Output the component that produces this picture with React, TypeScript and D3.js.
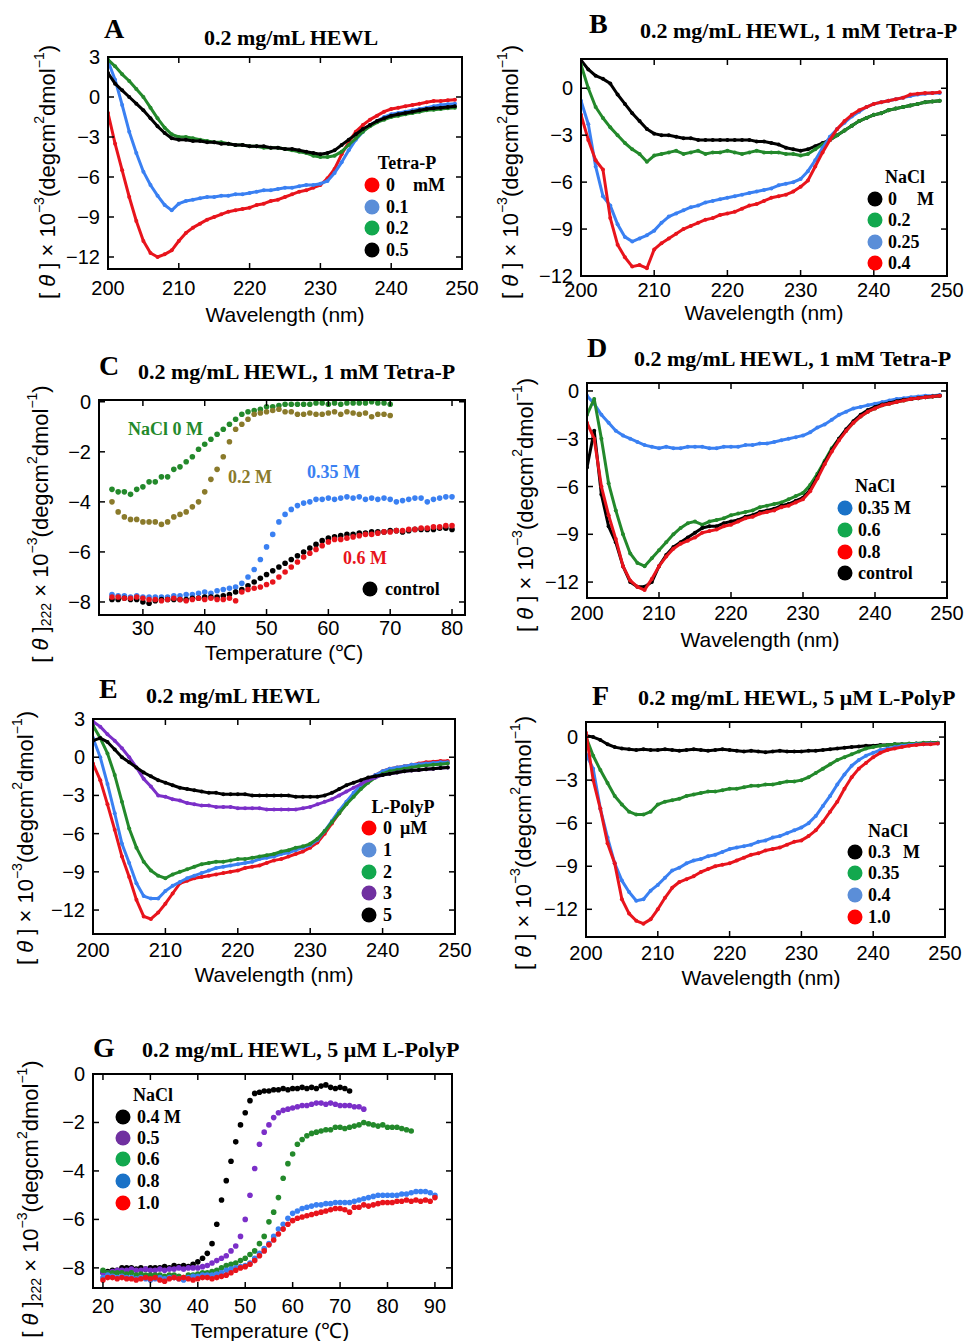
import React from 'react';
import * as d3 from 'd3';

// wavelength grid (nm) shared by the spectra
const WL = [200, 201, 202, 203, 204, 205, 206, 207, 208, 209, 210, 211, 212, 213, 214, 215, 216, 217, 218, 219,
  220, 221, 222, 223, 224, 225, 226, 227, 228, 229, 230, 231, 232, 233, 234, 235, 236, 237, 238, 239,
  240, 241, 242, 243, 244, 245, 246, 247, 248, 249];

// A: Tetra-P 0 / 0.1 / 0.2 / 0.5 mM
const A_RED = [-1.2, -3.5, -5.5, -7.5, -9.3, -10.8, -11.7, -12.0, -11.8, -11.5, -10.8, -10.2, -9.8, -9.5, -9.2, -9.0, -8.8, -8.6, -8.5, -8.4,
  -8.3, -8.1, -8.0, -7.8, -7.7, -7.5, -7.3, -7.1, -7.0, -6.8, -6.6, -6.1, -5.4, -4.3, -3.4, -2.6, -2.1, -1.7, -1.4, -1.1,
  -0.9, -0.8, -0.7, -0.6, -0.5, -0.4, -0.3, -0.3, -0.25, -0.2];
const A_BLUE = [2.7, 1.3, -0.6, -2.6, -4.2, -5.6, -6.6, -7.4, -8.1, -8.5, -8.0, -7.8, -7.7, -7.6, -7.5, -7.5, -7.4, -7.4, -7.3, -7.3,
  -7.2, -7.1, -7.0, -7.0, -6.9, -6.8, -6.8, -6.7, -6.6, -6.6, -6.5, -6.3, -5.7, -4.9, -4.0, -3.2, -2.6, -2.1, -1.8, -1.5,
  -1.3, -1.2, -1.1, -1.0, -0.9, -0.8, -0.7, -0.6, -0.55, -0.5];
const A_GREEN = [2.8, 2.3, 1.7, 1.2, 0.6, 0.0, -0.8, -1.6, -2.3, -2.8, -3.0, -3.0, -3.1, -3.2, -3.3, -3.4, -3.4, -3.5, -3.6, -3.6,
  -3.7, -3.7, -3.8, -3.8, -3.8, -3.9, -4.0, -4.1, -4.2, -4.4, -4.5, -4.5, -4.4, -4.1, -3.6, -3.1, -2.6, -2.2, -1.9, -1.7,
  -1.5, -1.4, -1.3, -1.2, -1.1, -1.0, -0.95, -0.9, -0.85, -0.8];
const A_BLACK = [1.8, 1.0, 0.5, 0.0, -0.5, -1.0, -1.6, -2.2, -2.7, -3.1, -3.2, -3.2, -3.3, -3.3, -3.4, -3.4, -3.5, -3.5, -3.6, -3.6,
  -3.7, -3.7, -3.7, -3.8, -3.8, -3.9, -3.9, -4.0, -4.1, -4.2, -4.3, -4.2, -4.0, -3.6, -3.2, -2.8, -2.4, -2.1, -1.8, -1.6,
  -1.4, -1.3, -1.2, -1.1, -1.0, -0.9, -0.85, -0.8, -0.75, -0.7];

// B: NaCl 0 / 0.2 / 0.25 / 0.4 M
const B_BLACK = [1.8, 1.2, 0.8, 0.6, 0.3, -0.4, -1.0, -1.6, -2.1, -2.6, -2.9, -3.0, -3.0, -3.1, -3.2, -3.2, -3.3, -3.3, -3.3, -3.3,
  -3.3, -3.3, -3.3, -3.3, -3.4, -3.4, -3.5, -3.6, -3.8, -3.9, -4.0, -3.9, -3.7, -3.5, -3.3, -3.0, -2.7, -2.4, -2.1, -1.9,
  -1.7, -1.6, -1.4, -1.3, -1.2, -1.1, -1.0, -0.9, -0.85, -0.8];
const B_GREEN = [1.5, 0.0, -1.2, -1.9, -2.5, -3.0, -3.5, -3.9, -4.2, -4.7, -4.3, -4.2, -4.1, -4.0, -4.2, -4.1, -4.0, -4.2, -4.1, -4.1,
  -4.0, -4.1, -4.2, -4.1, -4.0, -4.1, -4.1, -4.1, -4.2, -4.2, -4.3, -4.2, -3.9, -3.6, -3.3, -3.0, -2.7, -2.4, -2.1, -1.9,
  -1.7, -1.6, -1.4, -1.3, -1.2, -1.1, -1.0, -0.9, -0.85, -0.8];
const B_BLUE = [-0.8, -2.3, -5.0, -6.9, -7.5, -8.7, -9.5, -9.8, -9.6, -9.4, -9.1, -8.6, -8.2, -8.0, -7.8, -7.6, -7.5, -7.3, -7.2, -7.1,
  -7.0, -6.9, -6.8, -6.7, -6.6, -6.5, -6.4, -6.2, -6.1, -6.0, -5.8, -5.3, -4.6, -3.8, -3.1, -2.6, -2.2, -1.8, -1.5, -1.2,
  -1.0, -0.9, -0.8, -0.7, -0.6, -0.5, -0.4, -0.35, -0.3, -0.3];
const B_RED = [-1.7, -3.3, -4.6, -5.2, -8.3, -10.0, -10.8, -11.4, -11.3, -11.5, -10.3, -9.9, -9.6, -9.3, -9.0, -8.8, -8.6, -8.4, -8.3, -8.1,
  -8.0, -7.9, -7.7, -7.5, -7.4, -7.2, -7.0, -6.9, -6.8, -6.6, -6.3, -5.9, -5.0, -4.1, -3.3, -2.6, -2.1, -1.7, -1.4, -1.2,
  -1.0, -0.9, -0.8, -0.7, -0.6, -0.4, -0.35, -0.3, -0.3, -0.25];

// C: thermal melts at 222 nm, 1 mM Tetra-P
const T_C70 = [25, 26, 27, 28, 29, 30, 31, 32, 33, 34, 35, 36, 37, 38, 39, 40, 41, 42, 43, 44, 45, 46, 47,
  48, 49, 50, 51, 52, 53, 54, 55, 56, 57, 58, 59, 60, 61, 62, 63, 64, 65, 66, 67, 68, 69, 70];
const T_C80 = [25, 26, 27, 28, 29, 30, 31, 32, 33, 34, 35, 36, 37, 38, 39, 40, 41, 42, 43, 44, 45, 46, 47,
  48, 49, 50, 51, 52, 53, 54, 55, 56, 57, 58, 59, 60, 61, 62, 63, 64, 65, 66, 67, 68, 69, 70,
  71, 72, 73, 74, 75, 76, 77, 78, 79, 80];
const C_GREEN = [-3.5, -3.6, -3.6, -3.7, -3.5, -3.4, -3.2, -3.2, -3.0, -3.0, -2.7, -2.6, -2.4, -2.2, -1.9, -1.7, -1.5, -1.3, -1.1, -0.9,
  -0.7, -0.5, -0.4, -0.35, -0.3, -0.2, -0.2, -0.15, -0.1, -0.1, -0.1, -0.1, -0.1, -0.05, -0.05, -0.1, -0.05, -0.1, -0.05, -0.05,
  -0.05, -0.05, 0.0, -0.05, -0.05, -0.1];
const C_OLIVE = [-4.0, -4.4, -4.6, -4.7, -4.7, -4.8, -4.8, -4.8, -4.9, -4.8, -4.6, -4.5, -4.4, -4.2, -4.0, -3.6, -3.1, -2.7, -2.2, -1.6,
  -1.1, -0.9, -0.7, -0.5, -0.45, -0.4, -0.35, -0.3, -0.4, -0.4, -0.5, -0.5, -0.45, -0.5, -0.5, -0.45, -0.4, -0.5, -0.4, -0.45,
  -0.5, -0.45, -0.6, -0.5, -0.5, -0.55];
const C_BLUE = [-7.7, -7.75, -7.75, -7.8, -7.75, -7.8, -7.8, -7.8, -7.8, -7.8, -7.75, -7.75, -7.7, -7.7, -7.65, -7.6, -7.65, -7.55, -7.5, -7.45,
  -7.4, -7.25, -7.0, -6.7, -6.3, -5.8, -5.3, -4.8, -4.5, -4.3, -4.15, -4.05, -4.0, -3.9, -3.9, -3.85, -3.9, -3.85, -3.8, -3.85,
  -3.8, -3.9, -3.85, -3.9, -3.85, -3.9, -4.0, -3.95, -3.9, -3.85, -3.85, -4.0, -3.9, -3.85, -3.8, -3.8];
const C_RED = [-7.8, -7.8, -7.85, -7.85, -7.8, -7.85, -7.9, -7.9, -7.95, -7.9, -7.85, -7.9, -7.95, -7.9, -7.85, -7.9, -7.85, -7.9, -7.9, -7.85,
  -7.95, -7.6, -7.5, -7.45, -7.4, -7.3, -7.2, -7.0, -6.8, -6.6, -6.4, -6.2, -6.05, -5.9, -5.75, -5.6, -5.5, -5.5, -5.45, -5.4,
  -5.35, -5.3, -5.3, -5.25, -5.2, -5.2, -5.15, -5.15, -5.1, -5.1, -5.05, -5.05, -5.0, -5.0, -4.95, -4.95];
const C_BLACK = [-7.9, -7.9, -7.85, -7.9, -7.9, -8.0, -8.05, -7.95, -7.9, -7.9, -7.9, -7.9, -7.9, -7.85, -7.85, -7.8, -7.8, -7.8, -7.75, -7.7,
  -7.6, -7.5, -7.35, -7.2, -7.05, -6.9, -6.75, -6.6, -6.45, -6.3, -6.15, -6.0, -5.85, -5.7, -5.55, -5.45, -5.4, -5.35, -5.3, -5.3,
  -5.25, -5.25, -5.2, -5.2, -5.2, -5.15, -5.15, -5.2, -5.15, -5.1, -5.1, -5.1, -5.1, -5.05, -5.05, -5.1];

// D: NaCl 0.35 / 0.6 / 0.8 M / control
const D_BLUE = [-0.3, -0.8, -1.5, -2.0, -2.5, -2.8, -3.0, -3.2, -3.4, -3.5, -3.6, -3.5, -3.6, -3.6, -3.5, -3.5, -3.5, -3.6, -3.6, -3.5,
  -3.5, -3.5, -3.4, -3.4, -3.3, -3.3, -3.2, -3.1, -3.0, -2.9, -2.8, -2.6, -2.3, -2.1, -1.8, -1.5, -1.3, -1.1, -1.0, -0.9,
  -0.8, -0.7, -0.6, -0.5, -0.45, -0.4, -0.35, -0.3, -0.3, -0.25];
const D_GREEN = [-1.5, -0.5, -3.0, -5.8, -7.5, -9.0, -10.2, -10.8, -11.0, -10.5, -10.0, -9.5, -9.0, -8.6, -8.3, -8.2, -8.4, -8.2, -8.1, -8.0,
  -7.8, -7.7, -7.6, -7.5, -7.3, -7.2, -7.1, -7.0, -6.8, -6.6, -6.4, -5.9, -5.2, -4.4, -3.6, -3.0, -2.5, -2.0, -1.6, -1.3,
  -1.1, -0.9, -0.8, -0.7, -0.6, -0.5, -0.45, -0.4, -0.35, -0.3];
const D_RED = [-2.0, -3.0, -6.0, -7.8, -9.3, -11.0, -11.9, -12.3, -12.5, -11.8, -11.0, -10.4, -9.9, -9.6, -9.4, -9.2, -8.9, -8.8, -8.7, -8.5,
  -8.4, -8.2, -8.0, -7.9, -7.7, -7.6, -7.5, -7.3, -7.2, -7.0, -6.8, -6.3, -5.5, -4.6, -3.8, -3.1, -2.5, -2.0, -1.6, -1.3,
  -1.1, -0.9, -0.8, -0.7, -0.6, -0.5, -0.45, -0.4, -0.35, -0.3];
const D_BLACK = [-4.8, -2.5, -6.5, -8.5, -9.5, -11.0, -12.0, -12.3, -12.3, -12.0, -11.0, -10.3, -9.8, -9.5, -9.2, -8.9, -8.6, -8.5, -8.5, -8.3,
  -8.2, -8.1, -7.9, -7.8, -7.6, -7.5, -7.4, -7.2, -7.1, -6.9, -6.7, -6.2, -5.4, -4.5, -3.7, -3.0, -2.4, -1.9, -1.5, -1.2,
  -1.0, -0.85, -0.75, -0.65, -0.55, -0.5, -0.45, -0.4, -0.35, -0.3];

// E: L-PolyP 0 / 1 / 2 / 3 / 5 uM
const E_RED = [-0.5, -1.8, -3.7, -5.7, -7.8, -9.4, -11.2, -12.5, -12.7, -12.2, -11.5, -10.7, -9.9, -9.7, -9.5, -9.4, -9.3, -9.2, -9.1, -9.0,
  -8.9, -8.7, -8.6, -8.5, -8.3, -8.1, -8.0, -7.8, -7.6, -7.4, -7.1, -6.7, -6.0, -5.2, -4.4, -3.6, -2.9, -2.3, -1.8, -1.4,
  -1.1, -0.9, -0.8, -0.7, -0.6, -0.5, -0.4, -0.35, -0.3, -0.3];
const E_BLUE = [1.5, 0.0, -2.1, -4.4, -6.8, -8.3, -9.9, -10.9, -11.1, -11.1, -10.5, -10.1, -9.8, -9.5, -9.3, -9.1, -8.9, -8.7, -8.6, -8.5,
  -8.4, -8.3, -8.2, -8.0, -7.9, -7.8, -7.6, -7.5, -7.3, -7.1, -6.9, -6.5, -5.8, -5.0, -4.2, -3.5, -2.8, -2.2, -1.7, -1.4,
  -1.1, -0.9, -0.8, -0.7, -0.6, -0.55, -0.5, -0.45, -0.4, -0.4];
const E_GREEN = [2.5, 1.5, 0.3, -1.4, -3.5, -5.6, -7.1, -8.2, -8.9, -9.3, -9.5, -9.2, -9.0, -8.8, -8.6, -8.4, -8.3, -8.2, -8.2, -8.1,
  -8.0, -8.0, -7.9, -7.8, -7.7, -7.6, -7.4, -7.3, -7.1, -7.0, -6.8, -6.4, -5.8, -5.1, -4.4, -3.7, -3.1, -2.5, -2.0, -1.6,
  -1.3, -1.1, -1.0, -0.9, -0.8, -0.7, -0.65, -0.6, -0.55, -0.5];
const E_PURPLE = [2.8, 2.4, 1.8, 1.3, 0.7, 0.0, -0.8, -1.7, -2.3, -3.0, -3.1, -3.3, -3.4, -3.6, -3.7, -3.8, -3.8, -3.9, -3.9, -3.9,
  -4.0, -4.0, -4.0, -4.0, -4.1, -4.1, -4.1, -4.1, -4.1, -4.0, -3.9, -3.7, -3.5, -3.3, -3.0, -2.7, -2.4, -2.1, -1.8, -1.6,
  -1.4, -1.3, -1.2, -1.1, -1.05, -1.0, -0.95, -0.9, -0.85, -0.8];
const E_BLACK = [1.3, 1.5, 1.2, 0.6, 0.0, -0.4, -0.8, -1.2, -1.5, -1.8, -2.0, -2.2, -2.4, -2.5, -2.6, -2.7, -2.8, -2.8, -2.9, -2.9,
  -2.9, -2.9, -3.0, -3.0, -3.0, -3.0, -3.0, -3.0, -3.1, -3.1, -3.1, -3.1, -3.0, -2.8, -2.5, -2.2, -2.0, -1.8, -1.6, -1.5,
  -1.4, -1.3, -1.2, -1.1, -1.05, -1.0, -0.95, -0.9, -0.85, -0.8];

// F: 5 uM L-PolyP, NaCl 0.3 / 0.35 / 0.4 / 1.0 M
const F_BLACK = [0.1, 0.0, -0.2, -0.5, -0.7, -0.8, -0.85, -0.9, -0.85, -0.9, -0.9, -0.85, -0.9, -0.95, -0.9, -0.85, -0.9, -0.95, -0.9, -0.85,
  -0.9, -0.95, -1.0, -0.95, -1.0, -1.05, -1.0, -0.95, -1.0, -1.0, -1.0, -0.95, -0.95, -0.9, -0.85, -0.8, -0.75, -0.7, -0.65, -0.6,
  -0.6, -0.55, -0.55, -0.5, -0.5, -0.5, -0.45, -0.45, -0.4, -0.4];
const F_GREEN = [0.0, -1.3, -2.3, -3.2, -4.1, -4.7, -5.2, -5.4, -5.4, -5.2, -4.7, -4.5, -4.4, -4.3, -4.1, -4.0, -3.9, -3.8, -3.8, -3.7,
  -3.6, -3.6, -3.5, -3.4, -3.4, -3.3, -3.3, -3.2, -3.1, -3.1, -3.0, -2.8, -2.5, -2.2, -1.9, -1.6, -1.4, -1.2, -1.0, -0.8,
  -0.7, -0.6, -0.55, -0.5, -0.5, -0.45, -0.45, -0.4, -0.4, -0.4];
const F_BLUE = [-1.2, -2.2, -5.0, -7.0, -8.8, -10.0, -10.8, -11.4, -11.3, -10.7, -10.3, -9.8, -9.3, -9.1, -8.8, -8.6, -8.5, -8.3, -8.2, -8.0,
  -7.8, -7.7, -7.6, -7.5, -7.3, -7.2, -7.0, -6.9, -6.7, -6.5, -6.3, -6.0, -5.5, -4.8, -4.1, -3.3, -2.6, -2.0, -1.6, -1.3,
  -1.1, -0.9, -0.8, -0.7, -0.6, -0.55, -0.5, -0.5, -0.45, -0.45];
const F_RED = [0.3, -3.0, -5.0, -7.4, -8.8, -11.3, -12.3, -12.8, -13.0, -12.7, -12.0, -11.2, -10.5, -10.1, -9.9, -9.7, -9.4, -9.2, -9.0, -8.9,
  -8.8, -8.6, -8.4, -8.2, -8.1, -7.9, -7.8, -7.7, -7.5, -7.3, -7.2, -6.9, -6.5, -5.9, -5.2, -4.5, -3.6, -2.8, -2.2, -1.8,
  -1.4, -1.1, -0.9, -0.8, -0.7, -0.6, -0.55, -0.5, -0.5, -0.45];

// G: thermal melts, 5 uM L-PolyP
const T_G72 = [20, 21, 22, 23, 24, 25, 26, 27, 28, 29, 30, 31, 32, 33, 34, 35, 36, 37, 38, 39, 40, 41, 42, 43, 44, 45, 46,
  47, 48, 49, 50, 51, 52, 53, 54, 55, 56, 57, 58, 59, 60, 61, 62, 63, 64, 65, 66, 67, 68, 69, 70, 71, 72];
const T_G75 = [20, 21, 22, 23, 24, 25, 26, 27, 28, 29, 30, 31, 32, 33, 34, 35, 36, 37, 38, 39, 40, 41, 42, 43, 44, 45, 46,
  47, 48, 49, 50, 51, 52, 53, 54, 55, 56, 57, 58, 59, 60, 61, 62, 63, 64, 65, 66, 67, 68, 69, 70, 71, 72, 73, 74, 75];
const T_G85 = [20, 21, 22, 23, 24, 25, 26, 27, 28, 29, 30, 31, 32, 33, 34, 35, 36, 37, 38, 39, 40, 41, 42, 43, 44, 45, 46,
  47, 48, 49, 50, 51, 52, 53, 54, 55, 56, 57, 58, 59, 60, 61, 62, 63, 64, 65, 66, 67, 68, 69, 70, 71, 72, 73, 74, 75,
  76, 77, 78, 79, 80, 81, 82, 83, 84, 85];
const T_G90 = [20, 21, 22, 23, 24, 25, 26, 27, 28, 29, 30, 31, 32, 33, 34, 35, 36, 37, 38, 39, 40, 41, 42, 43, 44, 45, 46,
  47, 48, 49, 50, 51, 52, 53, 54, 55, 56, 57, 58, 59, 60, 61, 62, 63, 64, 65, 66, 67, 68, 69, 70, 71, 72, 73, 74, 75,
  76, 77, 78, 79, 80, 81, 82, 83, 84, 85, 86, 87, 88, 89, 90];
const G_BLACK = [-8.2, -8.15, -8.1, -8.1, -8.0, -8.0, -8.0, -8.05, -8.0, -8.05, -8.0, -8.0, -8.0, -7.95, -8.0, -7.9, -7.95, -7.9, -7.95, -7.85,
  -7.75, -7.6, -7.4, -7.0, -6.2, -5.2, -4.4, -3.6, -2.8, -2.1, -1.6, -1.1, -0.8, -0.75, -0.7, -0.7, -0.65, -0.65, -0.6, -0.65,
  -0.6, -0.6, -0.55, -0.6, -0.55, -0.6, -0.5, -0.45, -0.55, -0.6, -0.55, -0.6, -0.7];
const G_PURPLE = [-8.2, -8.2, -8.15, -8.1, -8.1, -8.1, -8.05, -8.1, -8.1, -8.05, -8.1, -8.1, -8.05, -8.1, -8.05, -8.05, -8.0, -8.05, -8.0, -8.0,
  -8.0, -7.95, -7.9, -7.8, -7.7, -7.6, -7.5, -7.3, -7.1, -6.7, -6.0, -5.0, -3.9, -2.9, -2.4, -2.1, -1.8, -1.6, -1.5, -1.45,
  -1.4, -1.35, -1.3, -1.3, -1.25, -1.2, -1.2, -1.25, -1.2, -1.25, -1.3, -1.3, -1.3, -1.35, -1.35, -1.45];
const G_GREEN = [-8.1, -8.2, -8.2, -8.2, -8.2, -8.25, -8.2, -8.3, -8.25, -8.3, -8.3, -8.3, -8.3, -8.35, -8.3, -8.3, -8.35, -8.4, -8.3, -8.3,
  -8.25, -8.2, -8.2, -8.15, -8.1, -8.0, -7.9, -7.85, -7.8, -7.7, -7.6, -7.45, -7.3, -7.0, -6.7, -6.1, -5.7, -5.1, -4.3, -3.7,
  -3.3, -2.9, -2.7, -2.55, -2.45, -2.4, -2.35, -2.3, -2.3, -2.2, -2.2, -2.25, -2.2, -2.15, -2.1, -2.0, -2.05, -2.1, -2.15, -2.1,
  -2.2, -2.2, -2.2, -2.25, -2.3, -2.35];
const G_BLUE = [-8.4, -8.3, -8.35, -8.4, -8.35, -8.4, -8.4, -8.45, -8.4, -8.45, -8.5, -8.45, -8.4, -8.45, -8.4, -8.4, -8.45, -8.5, -8.4, -8.35,
  -8.35, -8.3, -8.3, -8.3, -8.25, -8.2, -8.1, -8.05, -8.0, -7.95, -7.9, -7.8, -7.6, -7.4, -7.2, -7.0, -6.7, -6.4, -6.2, -5.95,
  -5.75, -5.65, -5.55, -5.5, -5.45, -5.4, -5.4, -5.35, -5.35, -5.3, -5.3, -5.3, -5.3, -5.25, -5.2, -5.15, -5.1, -5.05, -5.0, -5.0,
  -5.0, -5.0, -5.0, -4.95, -4.95, -4.9, -4.85, -4.85, -4.85, -4.9, -5.0];
const G_RED = [-8.5, -8.4, -8.4, -8.45, -8.4, -8.45, -8.45, -8.5, -8.45, -8.4, -8.45, -8.4, -8.5, -8.55, -8.45, -8.4, -8.45, -8.4, -8.45, -8.5,
  -8.45, -8.4, -8.4, -8.45, -8.4, -8.35, -8.3, -8.2, -8.1, -8.0, -7.95, -7.85, -7.7, -7.5, -7.3, -7.05, -6.85, -6.6, -6.4, -6.2,
  -6.05, -5.95, -5.9, -5.85, -5.8, -5.75, -5.7, -5.65, -5.6, -5.55, -5.55, -5.6, -5.7, -5.5, -5.5, -5.4, -5.45, -5.4, -5.35, -5.3,
  -5.3, -5.3, -5.25, -5.25, -5.2, -5.25, -5.2, -5.25, -5.2, -5.25, -5.1];

const WL_TICKS = [200, 210, 220, 230, 240, 250];

const RED = '#e8141c';
const BLUE = '#3a80f2';
const GREEN = '#23892b';
const BLACK = '#000000';
const PURPLE = '#7b2fc8';
const OLIVE = '#8a7a2b';

const L_RED = '#ff0000';
const L_LBLUE = '#5b8ed8';
const L_BLUE = '#1a72c7';
const L_GREEN = '#12a84e';
const L_PURPLE = '#7030a0';

const SERIF = '"Liberation Serif", "Times New Roman", serif';
const SANS = '"Liberation Sans", Arial, sans-serif';

type Series = { x: number[]; y: number[]; color: string };
type Box = { l: number; t: number; r: number; b: number };

const minus = (v: number) => (v < 0 ? '\u2212' + Math.abs(v) : String(v));

function Panel({ id, box, xDomain, yDomain, xTicks, yTicks, series, dots, tickDy }: {
  id: string; box: Box; xDomain: [number, number]; yDomain: [number, number];
  xTicks: number[]; yTicks: number[]; series: Series[]; dots?: boolean; tickDy: number;
}) {
  const x = d3.scaleLinear().domain(xDomain).range([box.l, box.r]);
  const y = d3.scaleLinear().domain(yDomain).range([box.b, box.t]);
  const line = d3.line<[number, number]>().x(d => x(d[0])).y(d => y(d[1]));
  const tl = 6;
  return (
    <g>
      <defs>
        <clipPath id={id}>
          <rect x={box.l} y={box.t} width={box.r - box.l} height={box.b - box.t} />
        </clipPath>
      </defs>
      <g clipPath={`url(#${id})`}>
        {series.map((s, i) => {
          const pts = s.x.map((xv, j) => [xv, s.y[j]] as [number, number]);
          return (
            <g key={i}>
              {!dots && (
                <path d={line(pts) || ''} fill="none" stroke={s.color} strokeWidth={3}
                  strokeLinejoin="round" strokeLinecap="round" />
              )}
              {pts.map((p, j) => (
                <circle key={j} cx={x(p[0])} cy={y(p[1])} r={dots ? 2.8 : 2} fill={s.color} />
              ))}
            </g>
          );
        })}
      </g>
      <rect x={box.l} y={box.t} width={box.r - box.l} height={box.b - box.t} fill="none" stroke="#000" strokeWidth={2} />
      {xTicks.map(t => (
        <g key={'x' + t}>
          <line x1={x(t)} x2={x(t)} y1={box.b} y2={box.b - tl} stroke="#000" strokeWidth={1.5} />
          <line x1={x(t)} x2={x(t)} y1={box.t} y2={box.t + tl} stroke="#000" strokeWidth={1.5} />
          <text x={x(t)} y={box.b + tickDy} textAnchor="middle" fontFamily={SANS} fontSize={20}>{t}</text>
        </g>
      ))}
      {yTicks.map(t => (
        <g key={'y' + t}>
          <line x1={box.l} x2={box.l + tl} y1={y(t)} y2={y(t)} stroke="#000" strokeWidth={1.5} />
          <line x1={box.r} x2={box.r - tl} y1={y(t)} y2={y(t)} stroke="#000" strokeWidth={1.5} />
          <text x={box.l - 8} y={y(t)} textAnchor="end" dominantBaseline="central" fontFamily={SANS} fontSize={20}>{minus(t)}</text>
        </g>
      ))}
    </g>
  );
}

function YLabel({ x, y, sub }: { x: number; y: number; sub?: boolean }) {
  return (
    <text transform={`translate(${x},${y}) rotate(-90)`} textAnchor="middle" dominantBaseline="central"
      fontFamily={SANS} fontSize={22}>
      [ <tspan fontStyle="italic">θ</tspan> ]
      {sub && <tspan fontSize={14} dy={6}>222</tspan>}
      <tspan dy={sub ? -6 : 0}> × 10</tspan>
      <tspan fontSize={14} dy={-8}>−3</tspan>
      <tspan dy={8}>(degcm</tspan>
      <tspan fontSize={14} dy={-8}>2</tspan>
      <tspan dy={8}>dmol</tspan>
      <tspan fontSize={14} dy={-8}>−1</tspan>
      <tspan dy={8}>)</tspan>
    </text>
  );
}

function Heading({ letter, lx, ly, title, tx, ty }: { letter: string; lx: number; ly: number; title: string; tx: number; ty: number }) {
  return (
    <g fontFamily={SERIF} fontWeight="bold">
      <text x={lx} y={ly} fontSize={28}>{letter}</text>
      <text x={tx} y={ty} fontSize={22}>{title}</text>
    </g>
  );
}

function Legend({ head, hx, hy, cx, tx, ys, labels, colors }: {
  head: string; hx: number; hy: number; cx: number; tx: number; ys: number[]; labels: string[]; colors: string[];
}) {
  return (
    <g fontFamily={SERIF} fontWeight="bold" fontSize={18}>
      <text x={hx} y={hy} textAnchor="middle">{head}</text>
      {labels.map((lab, i) => (
        <g key={i}>
          <circle cx={cx} cy={ys[i]} r={7.5} fill={colors[i]} />
          <text x={tx} y={ys[i] + 6}>{lab}</text>
        </g>
      ))}
    </g>
  );
}

export default function App() {
  const wl = (y: number[], color: string): Series => ({ x: WL, y, color });
  return (
    <svg width={964} height={1341} style={{ position: 'absolute', left: 0, top: 0, background: '#fff' }}>
      <rect width={964} height={1341} fill="#fff" />

      {/* A */}
      <Heading letter="A" lx={104} ly={38} title="0.2 mg/mL HEWL" tx={204} ty={45} />
      <Panel id="cA" box={{ l: 108, t: 57, r: 462, b: 269 }} xDomain={[200, 250]} yDomain={[-12.9, 3]}
        xTicks={WL_TICKS} yTicks={[3, 0, -3, -6, -9, -12]} tickDy={26}
        series={[wl(A_RED, RED), wl(A_BLUE, BLUE), wl(A_GREEN, GREEN), wl(A_BLACK, BLACK)]} />
      <YLabel x={47} y={172} />
      <text x={285} y={322} textAnchor="middle" fontFamily={SANS} fontSize={21}>Wavelength (nm)</text>
      <Legend head="Tetra-P" hx={407} hy={169} cx={372} tx={386} ys={[185, 207, 228, 250]}
        labels={['0', '0.1', '0.2', '0.5']} colors={[L_RED, L_LBLUE, L_GREEN, BLACK]} />
      <text x={413} y={191} fontFamily={SERIF} fontWeight="bold" fontSize={18}>mM</text>

      {/* B */}
      <Heading letter="B" lx={589} ly={33} title="0.2 mg/mL HEWL, 1 mM Tetra-P" tx={640} ty={38} />
      <Panel id="cB" box={{ l: 581, t: 59, r: 947, b: 276 }} xDomain={[200, 250]} yDomain={[-12, 1.87]}
        xTicks={WL_TICKS} yTicks={[0, -3, -6, -9, -12]} tickDy={21}
        series={[wl(B_BLACK, BLACK), wl(B_GREEN, GREEN), wl(B_BLUE, BLUE), wl(B_RED, RED)]} />
      <YLabel x={510} y={172} />
      <text x={764} y={320} textAnchor="middle" fontFamily={SANS} fontSize={21}>Wavelength (nm)</text>
      <Legend head="NaCl" hx={905} hy={183} cx={875} tx={888} ys={[199, 220, 242, 263]}
        labels={['0', '0.2', '0.25', '0.4']} colors={[BLACK, L_GREEN, L_LBLUE, L_RED]} />
      <text x={917} y={205} fontFamily={SERIF} fontWeight="bold" fontSize={18}>M</text>

      {/* C */}
      <Heading letter="C" lx={99} ly={375} title="0.2 mg/mL HEWL, 1 mM Tetra-P" tx={138} ty={379} />
      <Panel id="cC" box={{ l: 99, t: 400, r: 465, b: 615 }} xDomain={[22.9, 82.1]} yDomain={[-8.52, 0.07]}
        xTicks={[30, 40, 50, 60, 70, 80]} yTicks={[0, -2, -4, -6, -8]} tickDy={20} dots
        series={[
          { x: T_C70, y: C_GREEN, color: GREEN },
          { x: T_C70, y: C_OLIVE, color: OLIVE },
          { x: T_C80, y: C_BLUE, color: BLUE },
          { x: T_C80, y: C_BLACK, color: BLACK },
          { x: T_C80, y: C_RED, color: RED },
        ]} />
      <YLabel x={40} y={524} sub />
      <text x={284} y={660} textAnchor="middle" fontFamily={SANS} fontSize={21}>Temperature (℃)</text>
      <g fontFamily={SERIF} fontWeight="bold" fontSize={18}>
        <text x={128} y={435} fill={GREEN}>NaCl 0 M</text>
        <text x={228} y={483} fill={OLIVE}>0.2 M</text>
        <text x={307} y={478} fill={BLUE}>0.35 M</text>
        <text x={343} y={564} fill={RED}>0.6 M</text>
        <circle cx={370} cy={589} r={7.5} fill={BLACK} />
        <text x={385} y={595}>control</text>
      </g>

      {/* D */}
      <Heading letter="D" lx={587} ly={357} title="0.2 mg/mL HEWL, 1 mM Tetra-P" tx={634} ty={366} />
      <Panel id="cD" box={{ l: 587, t: 383, r: 947, b: 598 }} xDomain={[200, 250]} yDomain={[-13, 0.5]}
        xTicks={WL_TICKS} yTicks={[0, -3, -6, -9, -12]} tickDy={22}
        series={[wl(D_BLUE, BLUE), wl(D_GREEN, GREEN), wl(D_BLACK, BLACK), wl(D_RED, RED)]} />
      <YLabel x={525} y={505} />
      <text x={760} y={647} textAnchor="middle" fontFamily={SANS} fontSize={21}>Wavelength (nm)</text>
      <Legend head="NaCl" hx={875} hy={492} cx={845} tx={858} ys={[508, 530, 552, 573]}
        labels={['0.35 M', '0.6', '0.8', 'control']} colors={[L_BLUE, L_GREEN, L_RED, BLACK]} />

      {/* E */}
      <Heading letter="E" lx={99} ly={698} title="0.2 mg/mL HEWL" tx={146} ty={703} />
      <Panel id="cE" box={{ l: 93, t: 719, r: 455, b: 934 }} xDomain={[200, 250]} yDomain={[-13.88, 3]}
        xTicks={WL_TICKS} yTicks={[3, 0, -3, -6, -9, -12]} tickDy={23}
        series={[wl(E_RED, RED), wl(E_BLUE, BLUE), wl(E_GREEN, GREEN), wl(E_PURPLE, PURPLE), wl(E_BLACK, BLACK)]} />
      <YLabel x={25} y={838} />
      <text x={274} y={982} textAnchor="middle" fontFamily={SANS} fontSize={21}>Wavelength (nm)</text>
      <Legend head="L-PolyP" hx={403} hy={813} cx={369} tx={383} ys={[828, 850, 872, 893, 915]}
        labels={['0', '1', '2', '3', '5']} colors={[L_RED, L_LBLUE, L_GREEN, L_PURPLE, BLACK]} />
      <text x={400} y={834} fontFamily={SERIF} fontWeight="bold" fontSize={18}>μM</text>

      {/* F */}
      <Heading letter="F" lx={592} ly={705} title="0.2 mg/mL HEWL, 5 μM L-PolyP" tx={638} ty={705} />
      <Panel id="cF" box={{ l: 586, t: 722, r: 945, b: 937 }} xDomain={[200, 250]} yDomain={[-13.93, 1.05]}
        xTicks={WL_TICKS} yTicks={[0, -3, -6, -9, -12]} tickDy={23}
        series={[wl(F_BLACK, BLACK), wl(F_GREEN, GREEN), wl(F_BLUE, BLUE), wl(F_RED, RED)]} />
      <YLabel x={523} y={843} />
      <text x={761} y={985} textAnchor="middle" fontFamily={SANS} fontSize={21}>Wavelength (nm)</text>
      <Legend head="NaCl" hx={888} hy={837} cx={855} tx={868} ys={[852, 873, 895, 917]}
        labels={['0.3', '0.35', '0.4', '1.0']} colors={[BLACK, L_GREEN, L_LBLUE, L_RED]} />
      <text x={903} y={858} fontFamily={SERIF} fontWeight="bold" fontSize={18}>M</text>

      {/* G */}
      <Heading letter="G" lx={93} ly={1057} title="0.2 mg/mL HEWL, 5 μM L-PolyP" tx={142} ty={1057} />
      <Panel id="cG" box={{ l: 93, t: 1074, r: 452, b: 1288 }} xDomain={[17.9, 93.6]} yDomain={[-8.83, 0]}
        xTicks={[20, 30, 40, 50, 60, 70, 80, 90]} yTicks={[0, -2, -4, -6, -8]} tickDy={25} dots
        series={[
          { x: T_G72, y: G_BLACK, color: BLACK },
          { x: T_G75, y: G_PURPLE, color: PURPLE },
          { x: T_G85, y: G_GREEN, color: GREEN },
          { x: T_G90, y: G_BLUE, color: BLUE },
          { x: T_G90, y: G_RED, color: RED },
        ]} />
      <YLabel x={30} y={1199} sub />
      <text x={270} y={1338} textAnchor="middle" fontFamily={SANS} fontSize={21}>Temperature (℃)</text>
      <Legend head="NaCl" hx={153} hy={1101} cx={123} tx={137} ys={[1117, 1138, 1159, 1181, 1203]}
        labels={['0.4 M', '0.5', '0.6', '0.8', '1.0']} colors={[BLACK, L_PURPLE, L_GREEN, L_BLUE, L_RED]} />
    </svg>
  );
}
